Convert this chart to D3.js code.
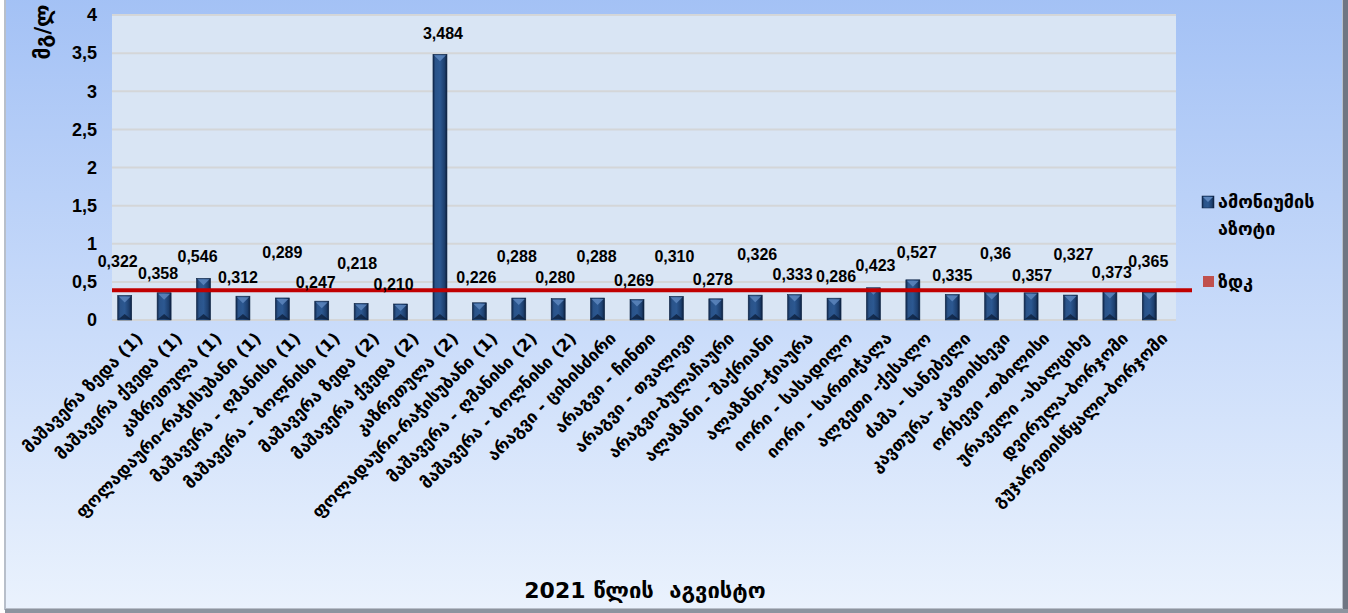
<!DOCTYPE html>
<html>
<head>
<meta charset="utf-8">
<script src="https://cdn.jsdelivr.net/npm/d3@7"></script>
<style>
  html, body { margin: 0; padding: 0; background: #ffffff; }
  text { font-family: "DejaVu Sans", "Liberation Sans", sans-serif; }
  .num { font-family: "Liberation Sans", "Noto Sans", sans-serif; font-weight: bold; }
</style>
</head>
<body>
<div id="chart"></div>
<script>
// ============================ data ============================
var stations = [
  "მაშავერა ზედა (1)",
  "მაშავერა ქვედა (1)",
  "კაზრეთულა (1)",
  "ფოლადაური-რაჭისუბანი (1)",
  "მაშავერა - ღმანისი (1)",
  "მაშავერა - ბოლნისი (1)",
  "მაშავერა ზედა (2)",
  "მაშავერა ქვედა (2)",
  "კაზრეთულა (2)",
  "ფოლადაური-რაჭისუბანი (1)",
  "მაშავერა - ღმანისი (2)",
  "მაშავერა - ბოლნისი (2)",
  "არაგვი - ციხისძირი",
  "არაგვი - ჩინთი",
  "არაგვი - თვალივი",
  "არაგვი-ბულაჩაური",
  "ალაზანი - შაქრიანი",
  "ალაზანი-ჭიაურა",
  "იორი - სასადილო",
  "იორი - სართიჭალა",
  "ალგეთი -ქესალო",
  "ძამა - სანებელი",
  "კავთურა- კავთისხევი",
  "ორხევი -თბილისი",
  "ურაველი -ახალციხე",
  "დვირულა-ბორჯომი",
  "გუჯარეთისწყალი-ბორჯომი"
];

var ammonium = [0.322, 0.358, 0.546, 0.312, 0.289, 0.247, 0.218, 0.210, 3.484,
                0.226, 0.288, 0.280, 0.288, 0.269, 0.310, 0.278, 0.326, 0.333,
                0.286, 0.423, 0.527, 0.335, 0.36, 0.357, 0.327, 0.373, 0.365];

// label text as printed on the chart
var ammoniumText = ["0,322","0,358","0,546","0,312","0,289","0,247","0,218","0,210","3,484",
                    "0,226","0,288","0,280","0,288","0,269","0,310","0,278","0,326","0,333",
                    "0,286","0,423","0,527","0,335","0,36","0,357","0,327","0,373","0,365"];

var zdk = 0.39;           // maximum allowed concentration
var yTicks = [0, 0.5, 1, 1.5, 2, 2.5, 3, 3.5, 4];
var seriesNames = ["ამონიუმის აზოტი", "ზდკ"];
var yTitle = "მგ/ლ";
var xTitle = "2021 წლის  აგვისტო";

// ============================ layout ============================
var width = 1348, height = 613;
var plot = {left: 112, right: 1176, top: 15, bottom: 320};

var svg = d3.select("#chart").append("svg")
    .attr("width", width)
    .attr("height", height);

var defs = svg.append("defs");

var bgGrad = defs.append("linearGradient")
    .attr("id", "bg-grad")
    .attr("x1", "0%").attr("y1", "0%")
    .attr("x2", "0%").attr("y2", "100%");
bgGrad.append("stop").attr("offset", "0%").attr("stop-color", "#a3c1f5");
bgGrad.append("stop").attr("offset", "55%").attr("stop-color", "#cadcfa");
bgGrad.append("stop").attr("offset", "100%").attr("stop-color", "#eaf2fd");

var barGrad = defs.append("linearGradient")
    .attr("id", "bar-grad")
    .attr("x1", "0%").attr("y1", "0%")
    .attr("x2", "100%").attr("y2", "0%");
barGrad.selectAll("stop")
    .data([["0%", "#10284c"], ["18%", "#2a5389"], ["50%", "#2c5891"], ["82%", "#1d3f6e"], ["100%", "#0c1f3d"]])
    .enter().append("stop")
    .attr("offset", function(d) { return d[0]; })
    .attr("stop-color", function(d) { return d[1]; });

// chart area background + frame
svg.append("rect")
    .attr("x", 0).attr("y", 0)
    .attr("width", width).attr("height", height)
    .attr("fill", "#ffffff");
svg.append("rect")
    .attr("x", 5).attr("y", -5)
    .attr("width", 1338).attr("height", 614)
    .attr("fill", "url(#bg-grad)")
    .attr("stroke", "#b8bfca")
    .attr("stroke-width", 2);
// shadow on the right and bottom
svg.append("rect").attr("x", 1343).attr("y", 0).attr("width", 5).attr("height", 613).attr("fill", "#6f7683");
svg.append("rect").attr("x", 5).attr("y", 609).attr("width", 1343).attr("height", 4).attr("fill", "#8d949f");

// plot area
svg.append("rect")
    .attr("x", plot.left).attr("y", plot.top)
    .attr("width", plot.right - plot.left)
    .attr("height", plot.bottom - plot.top)
    .attr("fill", "#d9e5f4");

// ============================ scales ============================
var x = d3.scaleBand()
    .domain(d3.range(stations.length))
    .range([plot.left, plot.right])
    .paddingInner(0.29)
    .paddingOuter(0.145);

var xSeries = d3.scaleBand()
    .domain(seriesNames)
    .range([0, x.bandwidth()]);

var y = d3.scaleLinear()
    .domain([0, 4])
    .range([plot.bottom, plot.top]);

// grid
svg.append("g")
    .selectAll("line")
    .data(yTicks)
    .enter().append("line")
    .attr("x1", plot.left)
    .attr("x2", plot.right)
    .attr("y1", function(d) { return y(d); })
    .attr("y2", function(d) { return y(d); })
    .attr("stroke", "#d4d6d8")
    .attr("stroke-width", 2);

// y axis
var yAxis = d3.axisLeft(y)
    .tickValues(yTicks)
    .tickSize(0)
    .tickPadding(15)
    .tickFormat(function(d) { return String(d).replace(".", ","); });

var gy = svg.append("g")
    .attr("transform", "translate(" + plot.left + ",0)")
    .call(yAxis);
gy.select(".domain").remove();
gy.selectAll("text")
    .attr("class", "num")
    .attr("font-size", 18)
    .attr("fill", "#000");

// y title
svg.append("text")
    .attr("transform", "translate(50,32) rotate(-90)")
    .attr("text-anchor", "middle")
    .attr("font-size", 21)
    .attr("font-weight", "bold")
    .attr("fill", "#000")
    .text(yTitle);

// ============================ bars ============================
var barW = xSeries.bandwidth();
var bars = svg.append("g").selectAll("g")
    .data(ammonium)
    .enter().append("g")
    .attr("transform", function(d, i) {
        return "translate(" + (x(i) + xSeries(seriesNames[0])) + ",0)";
    });

bars.append("rect")
    .attr("x", 0)
    .attr("y", function(d) { return y(d); })
    .attr("width", barW)
    .attr("height", function(d) { return y(0) - y(d); })
    .attr("fill", "url(#bar-grad)")
    .attr("stroke", "#0d2242")
    .attr("stroke-width", 0.6);

// bevel: light triangle at the top, dark strip at the bottom
bars.append("path")
    .attr("d", function(d) {
        var t = y(d);
        return "M1," + (t + 1) + "L" + (barW - 1) + "," + (t + 1) + "L" + (barW / 2) + "," + (t + 7) + "Z";
    })
    .attr("fill", "#5d86bd")
    .attr("opacity", 0.85);
bars.append("path")
    .attr("d", function(d) {
        var b = y(0);
        return "M1," + (b - 1) + "L" + (barW - 1) + "," + (b - 1) + "L" + (barW / 2) + "," + (b - 6) + "Z";
    })
    .attr("fill", "#0a1a33")
    .attr("opacity", 0.7);

// zdk line
svg.append("line")
    .attr("x1", plot.left)
    .attr("x2", plot.right + 16)
    .attr("y1", y(zdk))
    .attr("y2", y(zdk))
    .attr("stroke", "#c00000")
    .attr("stroke-width", 4);

// value labels (placed by hand in the original chart)
var labelY = [261, 273, 256, 277, 252, 282, 263, 284, 33, 277, 256, 277, 256, 280,
              256, 279, 254, 274, 276, 265, 252, 275, 253, 275, 254, 272, 261];
var labelDx = [-7, -6, -6, -5, 0, -6, -4, -7, 3, -3, -2, -3, -1, -3,
               -2, -3, 2, -2, 2, 2, 4, 0, 4, 1, 3, 2, -1];

svg.append("g").selectAll("text")
    .data(ammoniumText)
    .enter().append("text")
    .attr("class", "num")
    .attr("x", function(d, i) { return x(i) + xSeries(seriesNames[0]) + barW / 2 + labelDx[i]; })
    .attr("y", function(d, i) { return labelY[i]; })
    .attr("dy", "0.36em")
    .attr("text-anchor", "middle")
    .attr("font-size", 16)
    .attr("fill", "#000")
    .text(function(d) { return d; });

// x axis category labels
svg.append("g").selectAll("text")
    .data(stations)
    .enter().append("text")
    .attr("transform", function(d, i) {
        var cx = x(i) + x.bandwidth() / 2 + 4;
        return "translate(" + cx + ",331) rotate(-45)";
    })
    .attr("text-anchor", "end")
    .attr("dy", "0.7em")
    .attr("font-size", 17)
    .attr("font-weight", "bold")
    .attr("fill", "#000")
    .text(function(d) { return d; });

// x title
svg.append("text")
    .attr("x", 645)
    .attr("y", 590)
    .attr("dy", "0.35em")
    .attr("text-anchor", "middle")
    .attr("font-size", 22)
    .attr("font-weight", "bold")
    .attr("fill", "#000")
    .style("white-space", "pre")
    .text(xTitle);

// ============================ legend ============================
var legend = svg.append("g");
legend.append("rect")
    .attr("x", 1202).attr("y", 196)
    .attr("width", 12).attr("height", 12)
    .attr("fill", "url(#bar-grad)")
    .attr("stroke", "#0d2242").attr("stroke-width", 0.5);
legend.append("path")
    .attr("d", "M1203,197L1213,197L1208,202Z")
    .attr("fill", "#5d86bd");
var words = seriesNames[0].split(" ");
legend.append("text")
    .attr("x", 1218).attr("y", 202)
    .attr("dy", "0.35em")
    .attr("font-size", 18).attr("font-weight", "bold").attr("fill", "#000")
    .text(words[0]);
legend.append("text")
    .attr("x", 1218).attr("y", 229)
    .attr("dy", "0.35em")
    .attr("font-size", 18).attr("font-weight", "bold").attr("fill", "#000")
    .text(words[1]);
legend.append("rect")
    .attr("x", 1203).attr("y", 276)
    .attr("width", 11).attr("height", 11)
    .attr("fill", "#c0504d");
legend.append("text")
    .attr("x", 1218).attr("y", 282)
    .attr("dy", "0.35em")
    .attr("font-size", 18).attr("font-weight", "bold").attr("fill", "#000")
    .text(seriesNames[1]);
</script>
</body>
</html>
